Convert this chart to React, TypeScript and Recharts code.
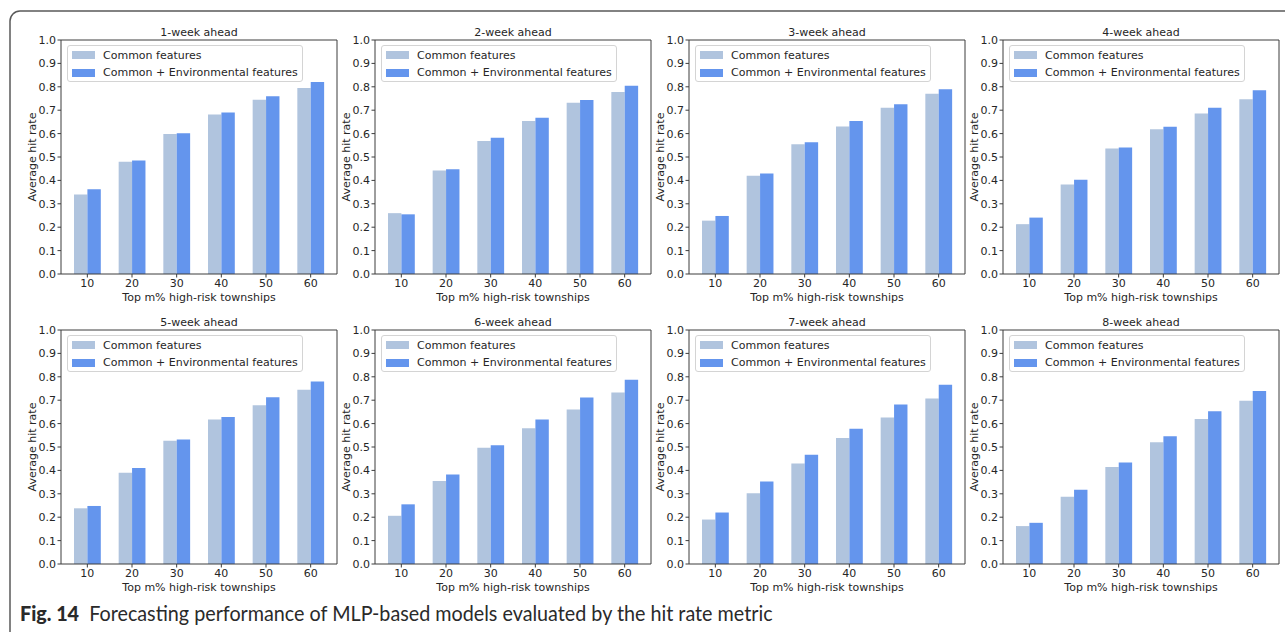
import React from "react"
import { BarChart, Bar, XAxis, YAxis, Legend } from "recharts"

// top m% of townships ranked by predicted risk
const CATEGORIES = ["10", "20", "30", "40", "50", "60"]
const Y_TICKS = [0, 0.1, 0.2, 0.3, 0.4, 0.5, 0.6, 0.7, 0.8, 0.9, 1.0]

const TITLES = [
  "1-week ahead",
  "2-week ahead",
  "3-week ahead",
  "4-week ahead",
  "5-week ahead",
  "6-week ahead",
  "7-week ahead",
  "8-week ahead",
]

// average hit rate, common features only
const commonWeek1 = [0.34, 0.48, 0.598, 0.682, 0.745, 0.795]
const commonWeek2 = [0.26, 0.442, 0.568, 0.654, 0.732, 0.778]
const commonWeek3 = [0.228, 0.42, 0.555, 0.63, 0.71, 0.77]
const commonWeek4 = [0.213, 0.383, 0.536, 0.619, 0.686, 0.747]
const commonWeek5 = [0.238, 0.39, 0.527, 0.617, 0.678, 0.745]
const commonWeek6 = [0.206, 0.355, 0.497, 0.58, 0.66, 0.733]
const commonWeek7 = [0.19, 0.302, 0.43, 0.538, 0.626, 0.707]
const commonWeek8 = [0.162, 0.287, 0.415, 0.52, 0.62, 0.698]

// average hit rate, common + environmental features
const envWeek1 = [0.362, 0.485, 0.602, 0.69, 0.76, 0.82]
const envWeek2 = [0.255, 0.448, 0.582, 0.668, 0.744, 0.805]
const envWeek3 = [0.248, 0.43, 0.563, 0.654, 0.725, 0.79]
const envWeek4 = [0.241, 0.403, 0.541, 0.629, 0.71, 0.785]
const envWeek5 = [0.248, 0.41, 0.532, 0.628, 0.713, 0.78]
const envWeek6 = [0.255, 0.383, 0.507, 0.618, 0.712, 0.787]
const envWeek7 = [0.22, 0.353, 0.467, 0.578, 0.682, 0.766]
const envWeek8 = [0.176, 0.317, 0.434, 0.546, 0.653, 0.739]

const COMMON = [commonWeek1, commonWeek2, commonWeek3, commonWeek4, commonWeek5, commonWeek6, commonWeek7, commonWeek8]
const ENV = [envWeek1, envWeek2, envWeek3, envWeek4, envWeek5, envWeek6, envWeek7, envWeek8]

const SERIES_ORDER = ["common", "env"]

const FONT = "'DejaVu Sans', sans-serif"
const TEXT = "#262626"
const SPINE = "#3c3c3c"
const LIGHT = "#b0c4de"
const DARK = "#6495ed"

const PANEL_LEFTS = [-1, 313, 627, 941]
const PANEL_TOPS = [10, 300]

function HitLegend({ payload }: any) {
  const items = [...(payload || [])].sort(
    (a: any, b: any) => SERIES_ORDER.indexOf(a.dataKey) - SERIES_ORDER.indexOf(b.dataKey)
  )
  return (
    <div
      style={{
        boxSizing: "border-box",
        width: 236,
        height: 37,
        border: "1px solid #d4d4d4",
        borderRadius: 3,
        background: "rgba(255,255,255,0.85)",
        fontFamily: FONT,
        fontSize: 11,
        color: TEXT,
        padding: "0.5px 0 0 4px",
      }}
    >
      {items.map((p: any) => (
        <div key={p.value} style={{ display: "flex", alignItems: "center", height: 17.5 }}>
          <span style={{ width: 23, height: 8, background: p.color, marginRight: 8 }} />
          <span>{p.value}</span>
        </div>
      ))}
    </div>
  )
}

function Panel({ idx }: { idx: number }) {
  const data = CATEGORIES.map((m, i) => ({ m, common: COMMON[idx][i], env: ENV[idx][i] }))
  const left = PANEL_LEFTS[idx % 4]
  const top = PANEL_TOPS[Math.floor(idx / 4)]
  const tickStyle = { fill: TEXT, fontSize: 11, fontFamily: FONT }

  return (
    <div style={{ position: "absolute", left, top }}>
      <BarChart
        width={345}
        height={300}
        data={data}
        margin={{ top: 29, right: 6, bottom: 0, left: 22 }}
        barGap={0}
        barSize={13.4}
      >
        <XAxis
          dataKey="m"
          padding={{ left: 4, right: 4 }}
          height={36}
          tickSize={3.5}
          tickMargin={2}
          axisLine={{ stroke: SPINE }}
          tickLine={{ stroke: SPINE }}
          tick={tickStyle}
          label={{
            content: ({ viewBox }: any) => (
              <text
                x={viewBox.x + viewBox.width / 2}
                y={viewBox.y + 23}
                textAnchor="middle"
                dominantBaseline="central"
                fill={TEXT}
                fontSize={11}
                fontFamily={FONT}
              >
                Top m% high-risk townships
              </text>
            ),
          }}
        />
        {/* top spine, carries the panel title */}
        <XAxis
          xAxisId="top"
          orientation="top"
          dataKey="m"
          height={1}
          tick={false}
          tickLine={false}
          axisLine={{ stroke: SPINE }}
          label={{
            content: ({ viewBox }: any) => (
              <text
                x={viewBox.x + viewBox.width / 2}
                y={viewBox.y + viewBox.height - 8}
                textAnchor="middle"
                dominantBaseline="central"
                fill={TEXT}
                fontSize={11}
                fontFamily={FONT}
              >
                {TITLES[idx]}
              </text>
            ),
          }}
        />
        <YAxis
          type="number"
          domain={[0, 1]}
          ticks={Y_TICKS}
          tickFormatter={(v: number) => v.toFixed(1)}
          width={40}
          tickSize={3.5}
          tickMargin={1.5}
          axisLine={{ stroke: SPINE }}
          tickLine={{ stroke: SPINE }}
          tick={tickStyle}
          label={{
            content: ({ viewBox }: any) => {
              const cx = viewBox.x + 11
              const cy = viewBox.y + viewBox.height / 2
              return (
                <text
                  x={cx}
                  y={cy}
                  transform={`rotate(-90 ${cx} ${cy})`}
                  textAnchor="middle"
                  dominantBaseline="central"
                  fill={TEXT}
                  fontSize={11}
                  fontFamily={FONT}
                >
                  Average hit rate
                </text>
              )
            },
          }}
        />
        {/* right spine */}
        <YAxis
          yAxisId="right"
          orientation="right"
          type="number"
          domain={[0, 1]}
          width={1}
          tick={false}
          tickLine={false}
          axisLine={{ stroke: SPINE }}
        />
        <Bar dataKey="common" name="Common features" fill={LIGHT} isAnimationActive={false} />
        <Bar dataKey="env" name="Common + Environmental features" fill={DARK} isAnimationActive={false} />
        <Legend
          content={<HitLegend />}
          layout="vertical"
          align="center"
          verticalAlign="middle"
          wrapperStyle={{ top: 35, left: 68, width: 236, height: 37 }}
        />
      </BarChart>
    </div>
  )
}

export default function App() {
  return (
    <div
      style={{
        position: "absolute",
        left: 0,
        top: 0,
        width: 1285,
        height: 632,
        background: "#fff",
        overflow: "hidden",
      }}
    >
      <svg width={1285} height={632} style={{ position: "absolute", left: 0, top: 0 }}>
        <path d="M 10 640 L 10 21 A 10 10 0 0 1 20 11 L 1290 11" fill="none" stroke="#5a5a5a" strokeWidth={1.5} />
      </svg>
      {TITLES.map((_, i) => (
        <Panel key={i} idx={i} />
      ))}
      <div
        style={{
          position: "absolute",
          left: 20,
          top: 600,
          fontFamily: "Lato, sans-serif",
          fontSize: 21,
          color: "#2a2a2a",
          whiteSpace: "nowrap",
          transform: "scaleX(0.94)",
          transformOrigin: "left center",
        }}
      >
        <b style={{ fontWeight: 900 }}>Fig. 14</b>&nbsp; Forecasting performance of MLP-based models evaluated by the hit rate metric
      </div>
    </div>
  )
}
